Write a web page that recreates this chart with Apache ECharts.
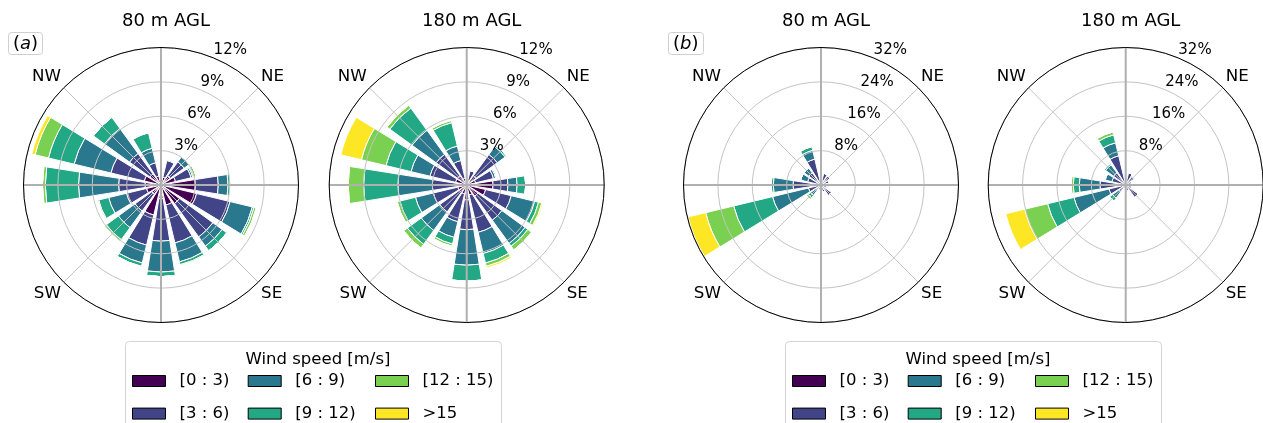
<!DOCTYPE html>
<html>
<head>
<meta charset="utf-8">
<script src="https://cdn.jsdelivr.net/npm/echarts@6/dist/echarts.min.js"></script>
<style>
  html, body { margin: 0; padding: 0; background: #fff; }
  #chart { width: 1263px; height: 423px; }
</style>
</head>
<body>
<div id="chart"></div>
<script>
// Direction sectors, clockwise from north
const directions = ['N', 'NNE', 'NE', 'ENE', 'E', 'ESE', 'SE', 'SSE', 'S', 'SSW', 'SW', 'WSW', 'W', 'WNW', 'NW', 'NNW'];
const speedBins = ['[0 : 3)', '[3 : 6)', '[6 : 9)', '[9 : 12)', '[12 : 15)', '>15'];
const compassLabels = ['NE', 'SE', 'SW', 'NW'];
const radialTicksA = [3, 6, 9, 12];
const radialTicksB = [8, 16, 24, 32];
const panelTitles = ['80 m AGL', '180 m AGL', '80 m AGL', '180 m AGL'];
const panelTags = ['a', 'b'];

// Frequency of occurrence (%) per direction sector, one array per speed bin
// (a) 80 m AGL
const a80_bin0 = [0.3, 0.7, 1.0, 1.3, 3.0, 3.2, 2.0, 1.8, 1.2, 2.7, 1.0, 1.3, 1.4, 1.5, 1.2, 0.8];
const a80_bin1 = [0.4, 1.5, 1.5, 1.4, 2.0, 3.0, 3.6, 3.4, 3.7, 2.7, 1.8, 1.8, 2.3, 3.0, 2.2, 1.2];
const a80_bin2 = [0.1, 0.1, 0.55, 0.15, 0.85, 2.0, 1.0, 1.7, 2.7, 1.6, 1.8, 1.6, 3.5, 3.3, 2.7, 1.3];
const a80_bin3 = [0, 0, 0.05, 0.1, 0.2, 0.15, 0.5, 0.25, 0.4, 0.3, 1.3, 0.9, 2.9, 2.3, 1.2, 1.4];
const a80_bin4 = [0, 0, 0, 0.2, 0.05, 0.2, 0, 0.1, 0, 0.05, 0.2, 0.1, 0.25, 1.2, 0, 0];
const a80_bin5 = [0, 0, 0, 0, 0, 0, 0, 0, 0, 0, 0, 0, 0, 0.3, 0, 0];
// (a) 180 m AGL
const a180_bin0 = [0.2, 0.4, 1.0, 0.8, 2.3, 1.7, 1.2, 0.9, 1.3, 0.8, 0.8, 0.8, 0.9, 1.0, 1.0, 0.6];
const a180_bin1 = [0.3, 0.9, 2.3, 1.6, 1.3, 2.3, 2.6, 3.35, 2.6, 2.5, 2.1, 2.2, 2.1, 2.3, 2.3, 1.6];
const a180_bin2 = [0, 0, 0.85, 0.2, 0.8, 2.1, 2.5, 1.9, 3.1, 1.4, 2.0, 1.6, 3.0, 1.7, 2.6, 1.3];
const a180_bin3 = [0, 0, 0.15, 0.1, 0.75, 0.35, 0.3, 0.85, 1.4, 0.6, 1.5, 1.4, 3.0, 2.25, 2.4, 2.1];
const a180_bin4 = [0, 0, 0, 0, 0, 0.3, 0.4, 0.3, 0, 0.2, 0.4, 0.25, 1.35, 2.2, 0.3, 0.2];
const a180_bin5 = [0, 0, 0, 0, 0, 0.1, 0, 0.15, 0, 0, 0, 0, 0.05, 1.85, 0.05, 0];
// (b) 80 m AGL
const b80_bin0 = [0.3, 1.0, 1.0, 0.8, 0.8, 0.6, 1.0, 0.6, 0.5, 0.5, 0.5, 0.6, 1.5, 0.8, 0.6, 0.8];
const b80_bin1 = [0.2, 1.8, 1.5, 1.2, 1.2, 0.9, 2.0, 1.1, 0.5, 0.8, 1.3, 2.4, 5.0, 2.4, 2.9, 5.4];
const b80_bin2 = [0, 0, 0, 0, 0, 0, 0, 0, 0, 0, 1.2, 8.6, 4.6, 1.7, 1.4, 2.1];
const b80_bin3 = [0, 0, 0, 0, 0, 0, 0, 0, 0, 0, 0.7, 9.3, 0.5, 0, 0, 0.9];
const b80_bin4 = [0, 0, 0, 0, 0, 0, 0, 0, 0, 0, 0.5, 6.7, 0, 0, 0, 0];
const b80_bin5 = [0, 0, 0, 0, 0, 0, 0, 0, 0, 0, 0, 4.2, 0, 0, 0, 0];
// (b) 180 m AGL
const b180_bin0 = [0.3, 1.0, 0.8, 0.6, 0.6, 0.5, 0.8, 0.5, 0.4, 0.4, 0.5, 0.8, 1.2, 0.5, 0.5, 1.0];
const b180_bin1 = [0.2, 1.9, 1.7, 0.9, 0.9, 1.0, 2.8, 1.0, 0.6, 0.6, 1.5, 3.2, 4.8, 2.8, 3.0, 6.0];
const b180_bin2 = [0, 0, 0, 0, 0, 0, 0, 0, 0, 0, 1.8, 8.4, 4.8, 1.6, 2.3, 3.1];
const b180_bin3 = [0, 0, 0, 0, 0, 0, 0, 0, 0, 0, 0.8, 6.3, 1.4, 0.1, 0.4, 1.9];
const b180_bin4 = [0, 0, 0, 0, 0, 0, 0, 0, 0, 0, 0, 5.5, 0.5, 0, 0, 0.7];
const b180_bin5 = [0, 0, 0, 0, 0, 0, 0, 0, 0, 0, 0, 4.5, 0, 0, 0, 0];

// viridis colours for the six speed bins
const binColors = ['#440154', '#414487', '#2a788e', '#22a884', '#7ad151', '#fde725'];
const FONT = 'DejaVu Sans';
const R = 137.5;

const panels = [
  { title: panelTitles[0], center: [161, 185], ticks: radialTicksA,
    bins: [a80_bin0, a80_bin1, a80_bin2, a80_bin3, a80_bin4, a80_bin5] },
  { title: panelTitles[1], center: [466.7, 185], ticks: radialTicksA,
    bins: [a180_bin0, a180_bin1, a180_bin2, a180_bin3, a180_bin4, a180_bin5] },
  { title: panelTitles[2], center: [821, 185], ticks: radialTicksB,
    bins: [b80_bin0, b80_bin1, b80_bin2, b80_bin3, b80_bin4, b80_bin5] },
  { title: panelTitles[3], center: [1125.7, 185], ticks: radialTicksB,
    bins: [b180_bin0, b180_bin1, b180_bin2, b180_bin3, b180_bin4, b180_bin5] }
];

const hidden = { axisLine: { show: false }, axisTick: { show: false }, axisLabel: { show: false }, splitLine: { show: false } };

const polar = [], angleAxis = [], radiusAxis = [], series = [], title = [], legend = [], graphic = [];

panels.forEach((p, i) => {
  const rMax = p.ticks[p.ticks.length - 1];
  const step = p.ticks[0];
  const base = polar.length;

  // 0: stacked wind-rose bars
  polar.push({ center: p.center, radius: R });
  angleAxis.push(Object.assign({ polarIndex: base, type: 'category', data: directions,
    startAngle: 90 + 180 / directions.length, clockwise: true, boundaryGap: true }, hidden));
  radiusAxis.push(Object.assign({ polarIndex: base, type: 'value', min: 0, max: rMax }, hidden));

  // 1: range circles, diagonal spokes and compass labels
  polar.push({ center: p.center, radius: R });
  angleAxis.push({ polarIndex: base + 1, type: 'value', min: 0, max: 360, interval: 45,
    startAngle: 90, clockwise: true, z: 5,
    axisLine: { show: false }, axisTick: { show: false },
    axisLabel: { show: true, margin: 4, color: '#000', fontSize: 16.7, fontFamily: FONT,
      formatter: v => (v % 90 === 45 ? compassLabels[(v - 45) / 90] : '') },
    splitLine: { show: true, lineStyle: { color: '#c4c4c4', width: 1 } } });
  radiusAxis.push({ polarIndex: base + 1, type: 'value', min: 0, max: rMax, interval: step, z: 5,
    axisLine: { show: false }, axisTick: { show: false }, axisLabel: { show: false },
    splitLine: { show: true, lineStyle: { color: '#c4c4c4', width: 1 } } });

  // 2: cardinal spokes and the outer frame circle
  polar.push({ center: p.center, radius: R });
  angleAxis.push({ polarIndex: base + 2, type: 'value', min: 0, max: 360, interval: 90,
    startAngle: 90, clockwise: true, z: 6,
    axisLine: { show: true, lineStyle: { color: '#000', width: 1 } },
    axisTick: { show: false }, axisLabel: { show: false },
    splitLine: { show: true, lineStyle: { color: '#b0b0b0', width: 2 } } });
  radiusAxis.push(Object.assign({ polarIndex: base + 2, type: 'value', min: 0, max: rMax }, hidden));

  // 3: radial percentage labels along 22.5 deg east of north
  polar.push({ center: p.center, radius: R });
  angleAxis.push(Object.assign({ polarIndex: base + 3, type: 'value', min: 0, max: 360,
    startAngle: 67.5, clockwise: true }, hidden));
  radiusAxis.push({ polarIndex: base + 3, type: 'value', min: 0, max: rMax, interval: step, z: 7,
    axisLine: { show: false }, axisTick: { show: false }, splitLine: { show: false },
    axisLabel: { show: true, margin: 0, align: 'left', verticalAlign: 'bottom',
      color: '#000', fontSize: 15, fontFamily: FONT,
      formatter: v => (v > 0 ? v + '%' : '') } });

  speedBins.forEach((name, k) => {
    series.push({
      type: 'bar', coordinateSystem: 'polar', polarIndex: base, name: name,
      stack: 'rose' + i, data: p.bins[k], barCategoryGap: '20%', z: 2,
      itemStyle: { color: binColors[k], borderColor: '#fff', borderWidth: 1 }
    });
  });

  title.push({ text: p.title, left: p.center[0], top: 7, textAlign: 'center',
    textStyle: { fontSize: 18, fontWeight: 'normal', fontFamily: FONT, color: '#000' } });
});

// panel tags and legends for the two groups
[[8, 125, 132, 247.7, 375], [668, 785, 792, 907.7, 1035]].forEach((g, j) => {
  title.push({ text: '({i|' + panelTags[j] + '})', left: g[0], top: 32, padding: [3, 5, 2, 5],
    borderColor: '#cfcfcf', borderWidth: 1, borderRadius: 3,
    textStyle: { fontSize: 18, fontWeight: 'normal', fontFamily: FONT, color: '#000',
      rich: { i: { fontSize: 18, fontStyle: 'italic', fontFamily: FONT, color: '#000' } } } });
  graphic.push({ type: 'rect', left: g[1], top: 341, z: 0,
    shape: { width: 376, height: 100, r: 4 },
    style: { fill: '#fff', stroke: '#d4d4d4', lineWidth: 1 } });
  title.push({ text: 'Wind speed [m/s]', left: g[1] + 188, top: 346, textAlign: 'center',
    textStyle: { fontSize: 16.5, fontWeight: 'normal', fontFamily: FONT, color: '#000' } });
  [g[2], g[3], g[4]].forEach((x, c) => {
    legend.push({
      data: [speedBins[2 * c], speedBins[2 * c + 1]], orient: 'vertical',
      left: x, top: 371.5, width: 120, height: 80, padding: 0, itemGap: 13.6, itemWidth: 33, itemHeight: 11,
      icon: 'rect', selectedMode: false,
      itemStyle: { borderColor: '#000', borderWidth: 1 },
      textStyle: { fontSize: 16.5, fontFamily: FONT, color: '#000', lineHeight: 19, padding: [0, 0, 0, 9] }
    });
  });
});

const chart = echarts.init(document.getElementById('chart'), null, { renderer: 'canvas' });
chart.setOption({
  animation: false,
  backgroundColor: '#fff',
  title, legend, polar, angleAxis, radiusAxis, series, graphic
});
</script>
</body>
</html>
